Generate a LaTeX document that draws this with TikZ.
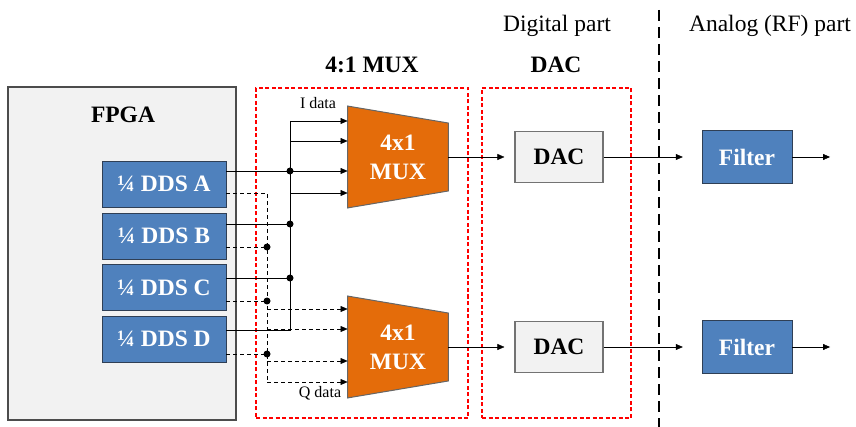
\documentclass[tikz,border=0pt]{standalone}
\usepackage{fontspec}
\setmainfont{Liberation Serif}[BoldFont={Liberation Serif Bold}]
\usepackage{tikz}
\usetikzlibrary{arrows,arrows.meta,shapes}
\pgfdeclarelayer{background}
\pgfsetlayers{background,main}
\definecolor{ddsblue}{HTML}{4F81BD}
\definecolor{ddsline}{HTML}{2F3F55}
\definecolor{muxorange}{HTML}{E46C0A}
\definecolor{boxgray}{HTML}{F2F2F2}
\newcommand{\figfont}{\fontsize{23.5}{29}\selectfont}
\newcommand{\tagfont}{\fontsize{16}{18}\selectfont}
\tikzstyle{edge} = [draw,line width=0.9pt,-]
\tikzstyle{qedge} = [draw,line width=0.9pt,dashed,dash pattern=on 4pt off 3pt,-]
\tikzstyle{dot} = [circle,fill=black,minimum size=7pt,inner sep=0pt]

\begin{document}
\begin{tikzpicture}[x=1pt,y=-1pt,->,>={Stealth[length=7pt,width=6pt,inset=0pt]},line width=0.9pt,
  dds/.style={rectangle,draw=ddsline,fill=ddsblue,text=white,font=\figfont\bfseries,
    minimum width=124pt,minimum height=46pt,inner sep=0pt},
  dac/.style={rectangle,draw=black!55,line width=1.2pt,fill=boxgray,font=\figfont\bfseries,
    minimum width=88pt,minimum height=51pt},
  mux/.style={rectangle,minimum width=100pt,minimum height=101pt,inner sep=0pt,
    text=white,font=\figfont\bfseries,align=center},
  muxshape/.style={draw=black!60,line width=1pt,fill=muxorange},
  part/.style={rectangle,draw=red,line width=1.3pt,dash pattern=on 4pt off 2.5pt},
  title/.style={font=\figfont}]

  \useasboundingbox (0,0) rectangle (856,427);

  % FPGA and the four DDS blocks
  \node[rectangle,draw=black!70,line width=1.2pt,fill=boxgray,minimum width=228pt,
    minimum height=333pt] (fpga) at (122,253.5) {};
  \node[title,font=\figfont\bfseries] (fpgatxt) at (123,115) {FPGA};
  \node[dds] (ddsA) at (164,184) {¼ DDS A};
  \node[dds] (ddsB) at (164,236) {¼ DDS B};
  \node[dds] (ddsC) at (164,287.5) {¼ DDS C};
  \node[dds] (ddsD) at (164,339) {¼ DDS D};

  % dashed parts
  \node[part,minimum width=212pt,minimum height=330pt] (muxpart) at (362,253) {};
  \node[part,minimum width=149pt,minimum height=330pt] (dacpart) at (556.5,253) {};
  \node[title,font=\figfont\bfseries] (muxtxt) at (372,65) {4:1 MUX};
  \node[title,font=\figfont\bfseries] (dactxt) at (556,65) {DAC};
  \node[title] (digtxt) at (557,26) {Digital part};
  \node[title] (anatxt) at (770,26) {Analog (RF) part};
  \coordinate (cut1) at (659,10);
  \coordinate (cut2) at (659,427);
  \draw[-,line width=1.3pt,dash pattern=on 11pt off 6pt] (cut1) -- (cut2);

  % muxes, DACs, filters
  \node[mux] (mux1) at (398,157) {4x1\\MUX};
  \node[mux] (mux2) at (398,347) {4x1\\MUX};
  \begin{pgfonlayer}{background}
    \foreach \m in {mux1,mux2}
      \path[muxshape] (\m.north west) -- ([yshift=-17pt]\m.north east)
        -- ([yshift=17pt]\m.south east) -- (\m.south west) -- cycle;
  \end{pgfonlayer}
  \node[dac] (dac1) at (559,157) {DAC};
  \node[dac] (dac2) at (559,347) {DAC};
  \node[dds,minimum width=90pt,minimum height=53pt] (filt1) at (747,157) {Filter};
  \node[dds,minimum width=90pt,minimum height=53pt] (filt2) at (747,347) {Filter};
  \coordinate (out1) at (830,157);
  \coordinate (out2) at (830,347);

  % I data bus (solid)
  \coordinate (i1) at (290,121);
  \coordinate (i2) at (290,141);
  \coordinate (jA) at (290,171);
  \coordinate (i4) at (290,193);
  \coordinate (jB) at (290,224);
  \coordinate (jC) at (290,278);
  \coordinate (jD) at (290,330);
  % Q data bus (dashed)
  \coordinate (qA) at (267,193);
  \coordinate (qB) at (267,247);
  \coordinate (qC) at (267,301);
  \coordinate (qD) at (267,354);
  \coordinate (q1) at (267,309);
  \coordinate (q2) at (267,329);
  \coordinate (q3) at (267,361);
  \coordinate (q4) at (267,382);

  \path[edge] (i1) -- (jD) -- (ddsD.east |- jD);
  \path[edge] (ddsB.east |- jB) -- (jB);
  \path[edge] (ddsC.east |- jC) -- (jC);
  \path[qedge] (ddsA.east |- qA) -- (qA) -- (q4);
  \path[qedge] (ddsB.east |- qB) -- (qB);
  \path[qedge] (ddsC.east |- qC) -- (qC);
  \path[qedge] (ddsD.east |- qD) -- (qD);

  \path
    (i1) edge (mux1.west |- i1)
    (i2) edge (mux1.west |- i2)
    (ddsA.east |- jA) edge (mux1.west |- jA)
    (i4) edge (mux1.west |- i4);
  \path[dashed,dash pattern=on 4pt off 3pt]
    (q1) edge (mux2.west |- q1)
    (q2) edge (mux2.west |- q2)
    (q3) edge (mux2.west |- q3)
    (q4) edge (mux2.west |- q4);

  \foreach \j in {jA,jB,jC,qB,qC,qD}
    \node[dot] at (\j) {};

  \node[font=\tagfont] (itxt) at (318,103) {I data};
  \node[font=\tagfont] (qtxt) at (320,393) {Q data};

  % signal chain
  \path[shorten >=10pt]
    (mux1.east) edge (dac1.west)
    (mux2.east) edge (dac2.west);
  \path[shorten >=19pt]
    (dac1.east) edge (filt1.west)
    (dac2.east) edge (filt2.west);
  \path
    (filt1.east) edge (out1)
    (filt2.east) edge (out2);

\end{tikzpicture}
\end{document}
